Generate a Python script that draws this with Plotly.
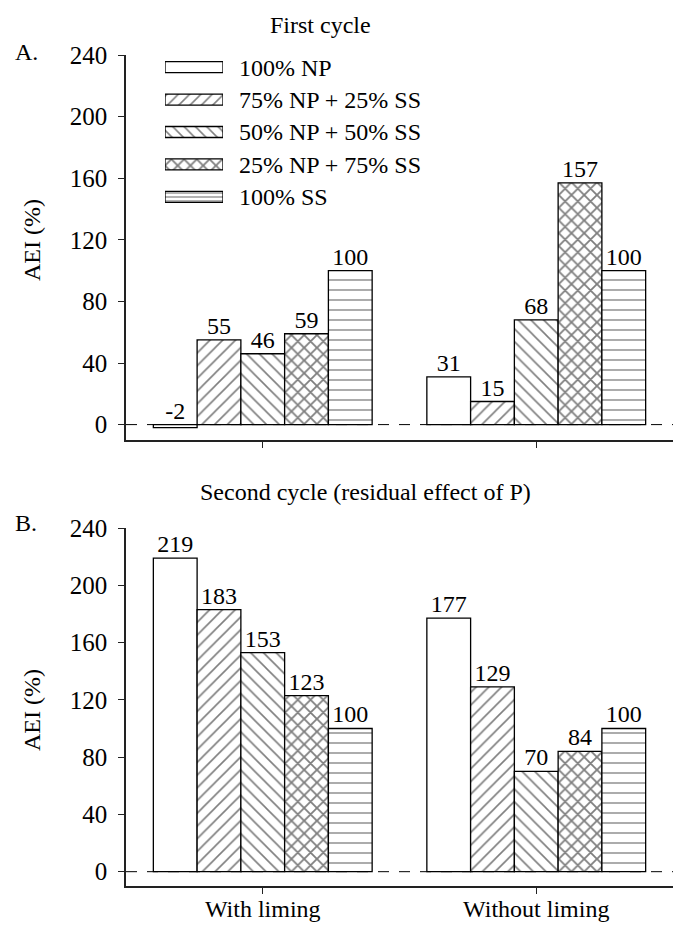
import plotly.graph_objects as go

# ---------------- data ----------------
groups = ["With liming", "Without liming"]
series = ["100% NP", "75% NP + 25% SS", "50% NP + 50% SS", "25% NP + 75% SS", "100% SS"]
first_cycle = [[-2, 31], [55, 15], [46, 68], [59, 157], [100, 100]]
second_cycle = [[219, 177], [183, 129], [153, 70], [123, 84], [100, 100]]
y_ticks = [0, 40, 80, 120, 160, 200, 240]

# ---------------- styles ----------------
patterns = ["", "/", "\\", "x", "-"]
psizes = [8, 9, 9, 9, 10]
psolid = [0.1, 0.18, 0.18, 0.36, 0.13]
FONT = "Liberation Serif"
W, H = 673, 928
BW = 0.16  # bar width in category units (0.8 / 5)


def px(x):
    return x / W


def py(y):
    return 1 - y / H


fig = go.Figure()
xg = list(range(len(groups)))

for panel, (vals, xa, ya) in enumerate([(first_cycle, "x", "y"), (second_cycle, "x2", "y2")]):
    for i, name in enumerate(series):
        fig.add_trace(go.Bar(
            x=xg, y=vals[i], name=name, xaxis=xa, yaxis=ya, showlegend=False,
            marker=dict(color="white", line=dict(color="black", width=1.3),
                        pattern=dict(shape=patterns[i], fgcolor="black", bgcolor="white",
                                     size=psizes[i], solidity=psolid[i])),
        ))
    for i, name in enumerate(series):
        fig.add_trace(go.Scatter(
            x=[g + (i - 2) * BW for g in xg], y=[max(v, 0) for v in vals[i]],
            text=[str(v) for v in vals[i]], mode="text", textposition="top center",
            textfont=dict(family=FONT, size=24, color="black"),
            xaxis=xa, yaxis=ya, showlegend=False, cliponaxis=False, hoverinfo="skip",
        ))

# legend drawn as boxes on a small axis
fig.add_trace(go.Bar(
    x=[1] * len(series), y=series, orientation="h", xaxis="x3", yaxis="y3",
    width=0.34, showlegend=False, hoverinfo="skip",
    marker=dict(color="white", line=dict(color="black", width=1.3),
                pattern=dict(shape=patterns, fgcolor="black", bgcolor="white",
                             size=[6, 8, 8, 9, 4], solidity=[0.1, 0.19, 0.19, 0.36, 0.3])),
))

axis_common = dict(showline=True, linecolor="#222", linewidth=1.5, showgrid=False,
                   zeroline=False, ticks="outside", ticklen=6, tickcolor="#222",
                   ticklabelstandoff=6, automargin=False,
                   tickfont=dict(family=FONT, size=25, color="black"))
axis_x2 = dict(axis_common, ticklabelstandoff=-6,
               tickfont=dict(family=FONT, size=24, color="black"))

fig.update_layout(
    width=W, height=H, margin=dict(l=0, r=0, t=0, b=0, pad=0),
    paper_bgcolor="white", plot_bgcolor="rgba(0,0,0,0)",
    barmode="group", bargap=0.2, bargroupgap=0,
    font=dict(family=FONT, color="black"),
    xaxis=dict(domain=[px(126), 1], anchor="y", range=[-0.5, 1.5], tickvals=xg,
               ticktext=["", ""], **axis_common),
    yaxis=dict(domain=[py(440), py(55)], anchor="x", range=[-10, 240], tickvals=y_ticks,
               **axis_common),
    xaxis2=dict(domain=[px(126), 1], anchor="y2", range=[-0.5, 1.5], tickvals=xg,
                ticktext=groups, **axis_x2),
    yaxis2=dict(domain=[py(886), py(528)], anchor="x2", range=[-10, 240], tickvals=y_ticks,
                **axis_common),
    xaxis3=dict(domain=[px(165), px(223)], anchor="y3", range=[0, 1], visible=False,
                automargin=False),
    yaxis3=dict(domain=[py(213), py(51)], anchor="x3", autorange="reversed", side="right",
                showline=False, showgrid=False, zeroline=False, ticks="",
                ticklabelstandoff=15, automargin=False,
                tickfont=dict(family=FONT, size=24, color="black")),
)

for xa, ya in [("x", "y"), ("x2", "y2")]:
    fig.add_shape(type="line", xref=f"{xa} domain", yref=ya, x0=0, x1=1, y0=0, y1=0,
                  line=dict(color="black", width=1, dash="11px,10px"), layer="below")

ann = [
    ("First cycle", 320, 25, 24, 0),
    ("Second cycle (residual effect of P)", 366, 492, 24, 0),
    ("A.", 26, 52, 24, 0),
    ("B.", 26, 523, 24, 0),
    ("AEI (%)", 32, 240, 24, -90),
    ("AEI (%)", 32, 710, 24, -90),
]
for text, x, y, s, ang in ann:
    fig.add_annotation(text=text, x=px(x), y=py(y), xref="paper", yref="paper",
                       xanchor="center", yanchor="middle",
                       showarrow=False, textangle=ang,
                       font=dict(family=FONT, size=s, color="black"))

fig.write_html("out.html", config={"displayModeBar": False},
               post_script="document.body.style.margin='0';")
